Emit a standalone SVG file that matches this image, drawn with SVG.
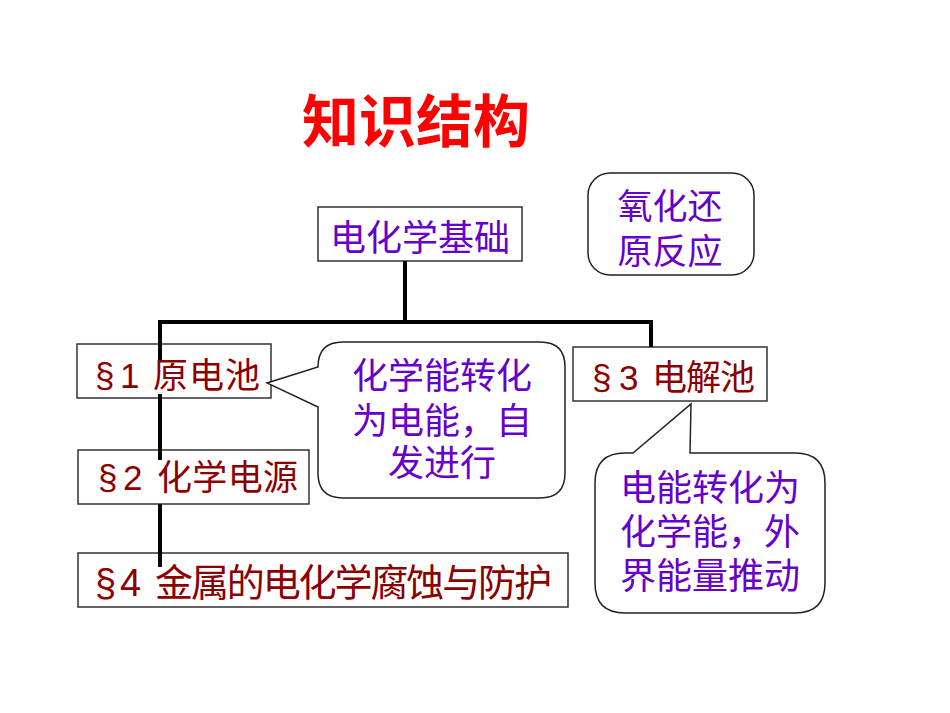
<svg xmlns="http://www.w3.org/2000/svg" width="950" height="713" viewBox="0 0 950 713">
<style>
.box{fill:#fff;stroke:#333;stroke-width:1.5}
.bub{fill:#fff;stroke:#222;stroke-width:1.5}
.sec{font-family:"Liberation Sans","Noto Sans CJK SC",sans-serif;fill:#8B0000;font-size:35px}
.pur{font-family:"Noto Sans CJK SC",sans-serif;fill:#6600CC;font-size:36px;text-anchor:middle}
.ln{stroke:#000;stroke-width:4;fill:none}
</style>
<rect width="950" height="713" fill="#fff"/>
<text x="416" y="142" font-family="'Noto Sans CJK SC',sans-serif" font-weight="bold" font-size="57" fill="#FF0000" text-anchor="middle">知识结构</text>
<g id="root">
<rect class="box" x="318" y="207" width="204" height="54"/>
<text class="pur" x="420" y="251">电化学基础</text>
</g>
<g id="redox">
<rect class="bub" x="588" y="173" width="166" height="102" rx="22"/>
<text class="pur" x="670" y="219" style="font-size:35px">氧化还</text>
<text class="pur" x="670" y="264" style="font-size:35px">原反应</text>
</g>
<g id="s1">
<rect class="box" x="77" y="344" width="194" height="54"/>
<text class="sec" y="388"><tspan x="95">§</tspan><tspan x="120">1</tspan><tspan x="153" textLength="107" lengthAdjust="spacing">原电池</tspan></text>
</g>
<g id="s2">
<rect class="box" x="78" y="450" width="231" height="54"/>
<text class="sec" y="490"><tspan x="98">§</tspan><tspan x="123">2</tspan><tspan x="157" textLength="141" lengthAdjust="spacing">化学电源</tspan></text>
</g>
<g id="s3">
<rect class="box" x="573" y="347" width="194" height="54"/>
<text class="sec" y="390"><tspan x="592">§</tspan><tspan x="619">3</tspan><tspan x="652" textLength="103" lengthAdjust="spacing">电解池</tspan></text>
</g>
<g id="s4">
<rect class="box" x="78" y="553" width="490" height="54"/>
<text class="sec" y="596" style="font-size:38px"><tspan x="95">§</tspan><tspan x="120">4</tspan><tspan x="155" textLength="397" lengthAdjust="spacing">金属的电化学腐蚀与防护</tspan></text>
</g>
<g id="note1">
<path class="bub" d="M343,342 H540 Q565,342 565,367 V473 Q565,498 540,498 H343 Q318,498 318,473 V407 L267,383 L318,367 Q318,342 343,342 Z"/>
<text class="pur" x="442" y="389">化学能转化</text>
<text class="pur" x="442" y="434">为电能，自</text>
<text class="pur" x="442" y="476">发进行</text>
</g>
<g id="note2">
<path class="bub" d="M625,453 H633 L691,404 L690,453 H795 Q825,453 825,483 V583 Q825,613 795,613 H625 Q595,613 595,583 V483 Q595,453 625,453 Z"/>
<text class="pur" x="710" y="501">电能转化为</text>
<text class="pur" x="710" y="545">化学能，外</text>
<text class="pur" x="710" y="589">界能量推动</text>
</g>
<g id="connectors">
<path class="ln" d="M405,261 V322 M158,322 H653 M160,322 V360 M651,322 V347 M160,394 V460 M160,504 V567"/>
</g>
</svg>
